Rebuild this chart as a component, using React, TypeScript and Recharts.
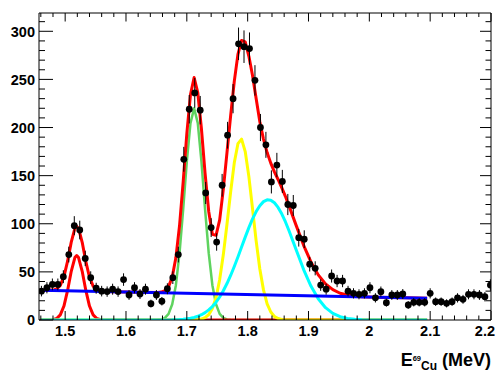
import React from 'react';
import { ComposedChart, Line, Scatter, XAxis, YAxis, ErrorBar } from 'recharts';

// ---- measured histogram (bin centres, counts, errors) ----
const binX = [
  1.461, 1.470, 1.479, 1.488, 1.497, 1.506, 1.515, 1.524, 1.533, 1.542,
  1.551, 1.560, 1.569, 1.578, 1.587, 1.596, 1.605, 1.614, 1.623, 1.632,
  1.641, 1.650, 1.659, 1.668, 1.677, 1.686, 1.695, 1.704, 1.713, 1.722,
  1.731, 1.740, 1.749, 1.758, 1.767, 1.776, 1.785, 1.794, 1.803, 1.812,
  1.821, 1.830, 1.839, 1.848, 1.857, 1.866, 1.875, 1.884, 1.893, 1.902,
  1.911, 1.920, 1.929, 1.938, 1.947, 1.956, 1.965, 1.974, 1.983, 1.992,
  2.001, 2.010, 2.019, 2.028, 2.037, 2.046, 2.055, 2.064, 2.073, 2.082,
  2.091, 2.100, 2.109, 2.118, 2.127, 2.136, 2.145, 2.154, 2.163, 2.172,
  2.181, 2.190, 2.199,
];
const counts = [
  30, 33.5, 37, 37, 45, 68, 98, 93.5, 64, 44,
  33, 30, 29.5, 32, 29.5, 42, 26, 33.5, 27, 32,
  17, 26, 19.5, 32.5, 44, 68, 167, 219, 236, 218,
  132, 96, 81, 140, 192, 230, 287, 284, 282, 249,
  200, 182, 143.5, 161, 144, 120, 119, 85.5, 84, 58,
  53.7, 36.3, 32, 45.7, 40.5, 40.5, 30, 27.7, 26.7, 27.7,
  33.5, 23, 29.4, 18, 26, 26, 27, 15.6, 18.4, 18.4,
  18.4, 27.7, 19, 19, 17.3, 19, 23, 21.5, 26.7, 26.7,
  26, 24.2, 36.3,
];
const countErr = [
  5.5, 5.8, 6.1, 6.1, 6.7, 8.2, 9.9, 9.7, 8.0, 6.6,
  5.7, 5.5, 5.4, 5.7, 5.4, 6.5, 5.1, 5.8, 5.2, 5.7,
  4.1, 5.1, 4.4, 5.7, 6.6, 8.2, 12.9, 14.8, 15.4, 14.8,
  11.5, 9.8, 9.0, 11.8, 13.9, 15.2, 16.9, 16.9, 16.8, 15.8,
  14.1, 13.5, 12.0, 12.7, 12.0, 11.0, 10.9, 9.2, 9.2, 7.6,
  7.3, 6.0, 5.7, 6.8, 6.4, 6.4, 5.5, 5.3, 5.2, 5.3,
  5.8, 4.8, 5.4, 4.2, 5.1, 5.1, 5.2, 3.9, 4.3, 4.3,
  4.3, 5.3, 4.4, 4.4, 4.2, 4.4, 4.8, 4.6, 5.2, 5.2,
  5.1, 4.9, 6.0,
];

// ---- fit curves ----
const totalX = [
  1.46, 1.48, 1.486, 1.492, 1.498, 1.504, 1.51, 1.516, 1.519, 1.522, 1.528, 1.534, 1.54, 1.546, 1.552, 1.558,
  1.58, 1.62, 1.652, 1.658, 1.664, 1.67, 1.676, 1.682, 1.688, 1.694, 1.7, 1.706, 1.712, 1.718, 1.724, 1.73,
  1.736, 1.742, 1.748, 1.754, 1.76, 1.766, 1.772, 1.778, 1.784, 1.79, 1.796, 1.802, 1.808, 1.814, 1.82,
  1.826, 1.832, 1.838, 1.844, 1.85, 1.856, 1.862, 1.868, 1.874, 1.88, 1.892, 1.904, 1.916, 1.928, 1.94,
  1.952, 1.964, 1.976, 1.988, 2.0, 2.012, 2.036, 2.06, 2.095,
];
const totalY = [
  31.0, 31.1, 32.2, 35.9, 45.0, 61.1, 80.9, 95.2, 97.2, 95.1, 80.7, 60.7, 44.4, 35.2, 31.3, 30.0,
  29.4, 28.9, 28.6, 29.0, 30.5, 34.7, 44.7, 64.6, 97.9, 143.6, 193.8, 234.2, 252, 236.4, 198.7, 152.3,
  112.8, 89, 88, 104, 136, 174, 212, 248, 276, 290.5, 289, 274, 254, 230, 206,
  188, 174, 163, 154, 146, 137.5, 128.5, 118.5, 108.2, 97.8, 77.6, 60.4, 46.9, 37.5, 31.5,
  27.8, 25.9, 24.8, 24.2, 23.9, 23.6, 23.3, 23.0, 22.5,
];
const peak1X = [1.46, 1.474, 1.48, 1.486, 1.492, 1.498, 1.504, 1.51, 1.516, 1.519, 1.522, 1.528, 1.534, 1.54, 1.546, 1.552, 1.558, 1.564, 1.58, 2.095];
const peak1Y = [0, 0.06, 0.34, 1.5, 5.3, 14.5, 30.7, 50.6, 64.9, 67, 64.9, 50.6, 30.7, 14.5, 5.3, 1.5, 0.34, 0.06, 0, 0];
const peak2X = [1.46, 1.646, 1.652, 1.658, 1.664, 1.67, 1.676, 1.682, 1.688, 1.694, 1.7, 1.706, 1.712, 1.718, 1.724, 1.73, 1.736, 1.742, 1.748, 1.754, 1.76, 1.766, 1.772, 1.778, 2.095];
const peak2Y = [0, 0, 0.16, 0.64, 2.2, 6.4, 16.4, 36.2, 69.4, 114.9, 164.8, 204.6, 220, 204.6, 164.8, 114.9, 69.4, 36.2, 16.4, 6.4, 2.2, 0.64, 0.16, 0, 0];
const peak3X = [1.46, 1.7, 1.706, 1.712, 1.718, 1.724, 1.73, 1.736, 1.742, 1.748, 1.754, 1.76, 1.766, 1.772, 1.778, 1.784, 1.79, 1.796, 1.802, 1.808, 1.814, 1.82, 1.826, 1.832, 1.838, 1.844, 1.85, 1.856, 1.862, 1.868, 1.88, 2.095];
const peak3Y = [0, 0, 0.03, 0.11, 0.33, 0.93, 2.4, 5.6, 11.9, 23.2, 42, 68, 99.5, 133, 163.3, 183.2, 188, 175.0, 149.0, 115.8, 82.0, 53.0, 31.3, 16.8, 8.3, 3.7, 1.5, 0.56, 0.19, 0.06, 0, 0];
const peak4X = [1.46, 1.64, 1.652, 1.664, 1.676, 1.688, 1.694, 1.7, 1.706, 1.712, 1.718, 1.724, 1.73, 1.736, 1.742, 1.748, 1.754, 1.76, 1.766, 1.772, 1.778, 1.784, 1.79, 1.796, 1.802, 1.808, 1.814, 1.82, 1.826, 1.832, 1.838, 1.844, 1.85, 1.856, 1.862, 1.868, 1.874, 1.88, 1.892, 1.904, 1.916, 1.928, 1.94, 1.952, 1.964, 1.976, 1.988, 2.0, 2.012, 2.095];
const peak4Y = [0, 0.01, 0.02, 0.07, 0.2, 0.51, 0.79, 1.21, 1.82, 2.67, 3.87, 5.49, 7.65, 10.5, 14.0, 18.5, 23.9, 30.4, 37.9, 46.3, 55.6, 65.5, 75.8, 86.1, 96.0, 105.0, 112.7, 118.8, 123.0, 124.9, 124.5, 121.8, 117.0, 110.3, 102.1, 92.7, 82.7, 72.4, 52.4, 35.3, 22.0, 12.8, 6.9, 3.4, 1.6, 0.68, 0.27, 0.1, 0.03, 0];
const bgX = [1.46, 2.095];
const bgY = [31, 22.5];

// ---- axis ticks ----
const xTicks = [
  1.46, 1.48, 1.5, 1.52, 1.54, 1.56, 1.58, 1.6, 1.62, 1.64, 1.66, 1.68, 1.7, 1.72, 1.74, 1.76, 1.78, 1.8,
  1.82, 1.84, 1.86, 1.88, 1.9, 1.92, 1.94, 1.96, 1.98, 2.0, 2.02, 2.04, 2.06, 2.08, 2.1, 2.12, 2.14, 2.16,
  2.18, 2.2,
];
const yTicks = [0, 10, 20, 30, 40, 50, 60, 70, 80, 90, 100, 110, 120, 130, 140, 150, 160, 170, 180, 190, 200, 210, 220, 230, 240, 250, 260, 270, 280, 290, 300, 310];
const X_DOMAIN: [number, number] = [1.457, 2.2];
const Y_DOMAIN: [number, number] = [0, 319];

const zip = (xs: number[], ys: number[]) => xs.map((x, i) => ({ x, y: ys[i] }));
const histData = binX.map((x, i) => ({ x, y: counts[i], err: countErr[i] }));

const FONT = 'Liberation Sans, Arial, Helvetica, sans-serif';
const labelStyle = { fontFamily: FONT, fontWeight: 700, fontSize: 14.5, fill: '#000' } as const;
const isMajorX = (v: number) => Math.abs(v * 10 - Math.round(v * 10)) < 1e-6;
const isMajorY = (v: number) => Math.round(v) % 50 === 0;
const fmtX = (v: number) => String(Math.round(v * 10) / 10);

const TickBottom = (p: any) => {
  const { x, y, payload } = p;
  const v = payload.value as number;
  const major = isMajorX(v);
  const last = Math.abs(v - 2.2) < 1e-6;
  return (
    <g>
      <line x1={x} x2={x} y1={y} y2={y - (major ? 9 : 4.5)} stroke="#000" strokeWidth={1} />
      {major && (
        <text x={last ? x + 4 : x} y={y + 15.5} textAnchor={last ? 'end' : 'middle'} style={labelStyle}>
          {fmtX(v)}
        </text>
      )}
    </g>
  );
};
const TickTop = (p: any) => {
  const { x, y, payload } = p;
  const major = isMajorX(payload.value);
  return <line x1={x} x2={x} y1={y} y2={y + (major ? 8.5 : 4)} stroke="#000" strokeWidth={1} />;
};
const TickLeft = (p: any) => {
  const { x, y, payload } = p;
  const v = payload.value as number;
  const major = isMajorY(v);
  return (
    <g>
      <line x1={x} x2={x + (major ? 14 : 6)} y1={y} y2={y} stroke="#000" strokeWidth={1} />
      {major && (
        <text x={x - 4} y={y} dy="0.36em" textAnchor="end" style={labelStyle}>
          {String(v)}
        </text>
      )}
    </g>
  );
};
const TickRight = (p: any) => {
  const { x, y, payload } = p;
  const major = isMajorY(payload.value);
  return <line x1={x} x2={x - (major ? 11 : 5.5)} y1={y} y2={y} stroke="#000" strokeWidth={1} />;
};

const Dot = (p: any) => <circle cx={p.cx} cy={p.cy} r={3.4} fill="#000" />;

const curve = (xs: number[], ys: number[], color: string, w: number, key: string) => (
  <Line
    key={key}
    data={zip(xs, ys)}
    dataKey="y"
    xAxisId="bottom"
    yAxisId="left"
    type="linear"
    stroke={color}
    strokeWidth={w}
    dot={false}
    activeDot={false}
    isAnimationActive={false}
    strokeLinejoin="round"
  />
);

export default function App() {
  return (
    <div style={{ position: 'absolute', left: 0, top: 0, width: 500, height: 373, background: '#fff' }}>
      <ComposedChart width={500} height={373} margin={{ top: 12, right: 8, bottom: 23, left: 9 }}>
        <XAxis xAxisId="bottom" type="number" dataKey="x" domain={X_DOMAIN} allowDataOverflow ticks={xTicks} interval={0}
          height={30} tickSize={0} tickMargin={0} tickLine={false} tick={<TickBottom />} axisLine={{ stroke: '#000' }} />
        <XAxis xAxisId="top" orientation="top" type="number" dataKey="x" domain={X_DOMAIN} allowDataOverflow ticks={xTicks} interval={0}
          height={1} tickSize={0} tickMargin={0} tickLine={false} tick={<TickTop />} axisLine={{ stroke: '#000' }} />
        <YAxis yAxisId="left" type="number" domain={Y_DOMAIN} allowDataOverflow ticks={yTicks} interval={0}
          width={30} tickSize={0} tickMargin={0} tickLine={false} tick={<TickLeft />} axisLine={{ stroke: '#000' }} />
        <YAxis yAxisId="right" orientation="right" type="number" domain={Y_DOMAIN} allowDataOverflow ticks={yTicks} interval={0}
          width={1} tickSize={0} tickMargin={0} tickLine={false} tick={<TickRight />} axisLine={{ stroke: '#000' }} />
        {curve(peak2X, peak2Y, '#5fd35f', 2.5, 'green')}
        {curve(peak1X, peak1Y, '#ff0000', 3, 'red1')}
        {curve(peak3X, peak3Y, '#ffff00', 3, 'yellow')}
        {curve(peak4X, peak4Y, '#00ffff', 3, 'cyan')}
        {curve(totalX, totalY, '#ff0000', 3, 'total')}
        {curve(bgX, bgY, '#0000ff', 3, 'bg')}
        <Scatter data={histData} dataKey="y" xAxisId="bottom" yAxisId="left" shape={<Dot />} isAnimationActive={false}>
          <ErrorBar dataKey="err" direction="y" width={0} stroke="#000" strokeWidth={1} isAnimationActive={false} />
        </Scatter>
      </ComposedChart>
      <svg width={500} height={373} style={{ position: 'absolute', left: 0, top: 0, pointerEvents: 'none' }}>
        <text x={491} y={366} textAnchor="end" style={{ fontFamily: FONT, fontWeight: 700, fontSize: 18, fill: '#000' }}>
          E<tspan fontSize={7.5} dy={-5}>69</tspan><tspan fontSize={12} dy={9}>Cu</tspan><tspan fontSize={18} dy={-4}> (MeV)</tspan>
        </text>
      </svg>
    </div>
  );
}
